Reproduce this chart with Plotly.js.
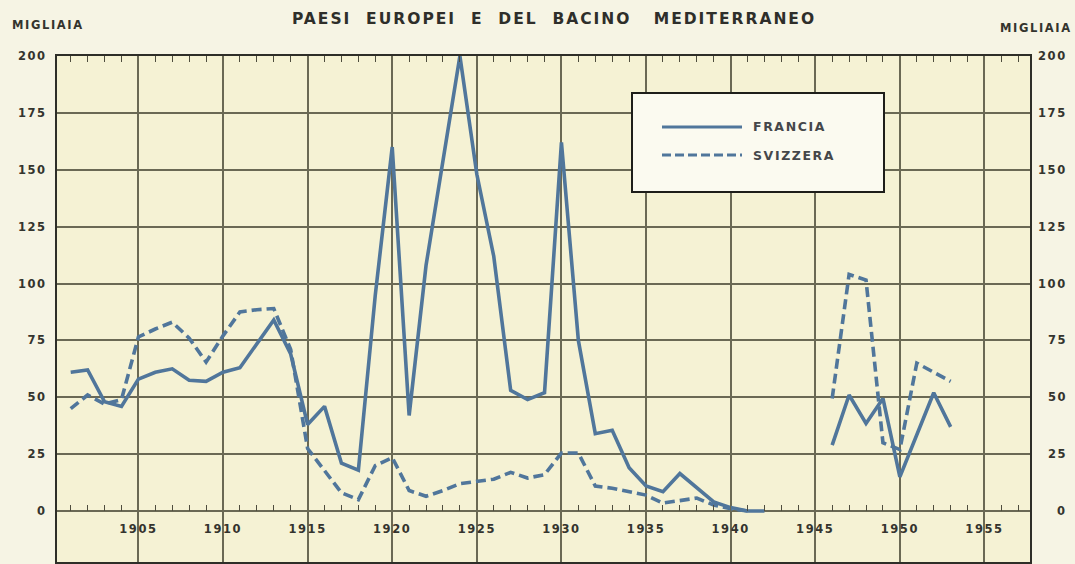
<!DOCTYPE html>
<html>
<head>
<meta charset="utf-8">
<script src="https://cdn.plot.ly/plotly-3.0.1.min.js"></script>
<style>
  html, body { margin: 0; padding: 0; background: #f6f4e4; }
  #chart { width: 1075px; height: 564px; }
  text { letter-spacing: 1.6px; white-space: pre; }
  .gtitle { letter-spacing: 2px; }
</style>
</head>
<body>
<div id="chart"></div>
<script>
// ---- data (migliaia) ----
const yearsPre = [1901,1902,1903,1904,1905,1906,1907,1908,1909,1910,
                  1911,1912,1913,1914,1915,1916,1917,1918,1919,1920,
                  1921,1922,1923,1924,1925,1926,1927,1928,1929,1930,
                  1931,1932,1933,1934,1935,1936,1937,1938,1939,1940,
                  1941,1942];
const franciaPre = [61,62,48,46,58,61,62.5,57.5,57,61,
                    63,73.5,84,69,38,46,21,18,95,160,
                    42,108,155,200,148,112,53,49,52,162,
                    75,34,35.5,19,11,8.5,16.5,10,4,1.5,
                    0,0];
const svizzeraPre = [45,51,47,49,76.5,80,83,76,65.5,77,
                     87.5,88.5,89,71,27.5,18,8,5,20,23.5,
                     9,6.5,9,12,13,14,17,14.5,16,25.5,
                     25.5,11,10,8.5,7,3.5,4.8,5.7,2.6,1,
                     0,null];
const yearsPost = [1946,1947,1948,1949,1950,1951,1952,1953];
const franciaPost = [29,51,38.5,49.5,15,33,52,37];
const svizzeraPost = [49.5,104,101.5,30,27,65,61,57];

const yTicks = [0,25,50,75,100,125,150,175,200];
const xTicks = [1905,1910,1915,1920,1925,1930,1935,1940,1945,1950,1955];
const seriesNames = ['FRANCIA','SVIZZERA'];
const titleText = 'PAESI  EUROPEI  E  DEL  BACINO   MEDITERRANEO';
const unitText = 'MIGLIAIA';

// ---- style ----
const lineColor = '#50769b';
const gridColor = '#6a6954';
const textColor = '#34342e';
const FONT = 'DejaVu Sans, Verdana, sans-serif';

const yearsAll = yearsPre.concat([null], yearsPost);
const fr = franciaPre.concat([null], franciaPost);
const sv = svizzeraPre.concat([null], svizzeraPost);

const traces = [
  {x: yearsAll, y: sv, xaxis: 'x2', yaxis: 'y', mode: 'lines', name: seriesNames[1],
   line: {color: lineColor, width: 3.6, dash: '10px,5px'}, connectgaps: false, showlegend: false},
  {x: yearsAll, y: fr, xaxis: 'x', yaxis: 'y', mode: 'lines', name: seriesNames[0],
   line: {color: lineColor, width: 3.6}, connectgaps: false, showlegend: false}
];

// plot area geometry
const L = 57, R = 45, T = 56, B = 2, W = 1075, H = 564;
const pw = W - L - R, ph = H - T - B;
const yMin = -22.4, yMax = 200;
const zeroPos = (0 - yMin) / (yMax - yMin);
const px = v => (v - L) / pw;          // pixel x -> paper x
const py = v => (H - B - v) / ph;      // pixel y -> paper y

const xRange = [1900.19, 1957.69];

const annotations = [];
yTicks.forEach(v => annotations.push({
  text: String(v), x: px(1069), xref: 'paper', xanchor: 'right',
  y: v, yref: 'y', yanchor: 'middle', showarrow: false,
  font: {family: FONT, size: 11.5, color: textColor, weight: 'bold'}
}));
annotations.push({text: unitText, x: px(10), xref: 'paper', xanchor: 'left',
  y: py(25), yref: 'paper', yanchor: 'middle', showarrow: false,
  font: {family: FONT, size: 11.5, color: textColor, weight: 'bold'}});
annotations.push({text: unitText, x: px(1074), xref: 'paper', xanchor: 'right',
  y: py(28), yref: 'paper', yanchor: 'middle', showarrow: false,
  font: {family: FONT, size: 11.5, color: textColor, weight: 'bold'}});
annotations.push({text: seriesNames[0], x: px(751), xref: 'paper', xanchor: 'left',
  y: py(127), yref: 'paper', yanchor: 'middle', showarrow: false,
  font: {family: FONT, size: 12.5, color: '#45474a', weight: 'bold'}});
annotations.push({text: seriesNames[1], x: px(751), xref: 'paper', xanchor: 'left',
  y: py(155), yref: 'paper', yanchor: 'middle', showarrow: false,
  font: {family: FONT, size: 12.5, color: '#45474a', weight: 'bold'}});

const shapes = [
  {type: 'rect', xref: 'paper', yref: 'paper', x0: px(632), x1: px(884), y0: py(192), y1: py(93),
   fillcolor: '#fbfaf0', line: {color: '#1e1e1a', width: 2}, layer: 'above'},
  {type: 'line', xref: 'paper', yref: 'paper', x0: px(662), x1: px(742), y0: py(127), y1: py(127),
   line: {color: lineColor, width: 3.2}, layer: 'above'},
  {type: 'line', xref: 'paper', yref: 'paper', x0: px(662), x1: px(742), y0: py(155), y1: py(155),
   line: {color: lineColor, width: 3.2, dash: '9px,4px'}, layer: 'above'}
];

const tickFont = {family: FONT, size: 11.5, color: textColor, weight: 'bold'};

const layout = {
  width: W, height: H,
  margin: {l: L, r: R, t: T, b: B, pad: 0},
  paper_bgcolor: '#f6f4e4',
  plot_bgcolor: '#f5f2d4',
  showlegend: false,
  title: {text: titleText, x: 554 / W, xanchor: 'center', xref: 'container',
          y: 1 - 19 / H, yanchor: 'middle', yref: 'container',
          font: {family: FONT, size: 15.5, color: '#2e2e2a', weight: 'bold'}},
  xaxis: {
    range: xRange, side: 'top', showline: true, mirror: true, linecolor: '#2e2e28', linewidth: 2,
    showgrid: true, gridcolor: gridColor, gridwidth: 2,
    tickmode: 'array', tickvals: xTicks, ticks: 'inside', ticklen: 6, tickcolor: gridColor, tickwidth: 1,
    showticklabels: false, zeroline: false,
    minor: {tick0: 1900, dtick: 1, ticks: 'inside', ticklen: 6, tickwidth: 1, tickcolor: '#4e4d3e', showgrid: false}
  },
  xaxis2: {
    range: xRange, overlaying: 'x', anchor: 'free', position: zeroPos, side: 'bottom',
    showline: false, showgrid: false, zeroline: false,
    tickmode: 'array', tickvals: xTicks, ticktext: xTicks.map(String),
    ticks: 'inside', ticklen: 6, tickcolor: gridColor, tickwidth: 1,
    ticklabelstandoff: 9, tickfont: tickFont,
    minor: {tick0: 1900, dtick: 1, ticks: 'inside', ticklen: 6, tickwidth: 1, tickcolor: '#4e4d3e', showgrid: false}
  },
  yaxis: {
    range: [yMin, yMax], showline: true, mirror: true, linecolor: '#2e2e28', linewidth: 2,
    showgrid: true, gridcolor: gridColor, gridwidth: 2, zeroline: false,
    tickmode: 'array', tickvals: yTicks, ticks: '', ticklabelstandoff: 6,
    tickfont: tickFont
  },
  annotations: annotations,
  shapes: shapes
};

Plotly.newPlot('chart', traces, layout, {displayModeBar: false});
</script>
</body>
</html>
